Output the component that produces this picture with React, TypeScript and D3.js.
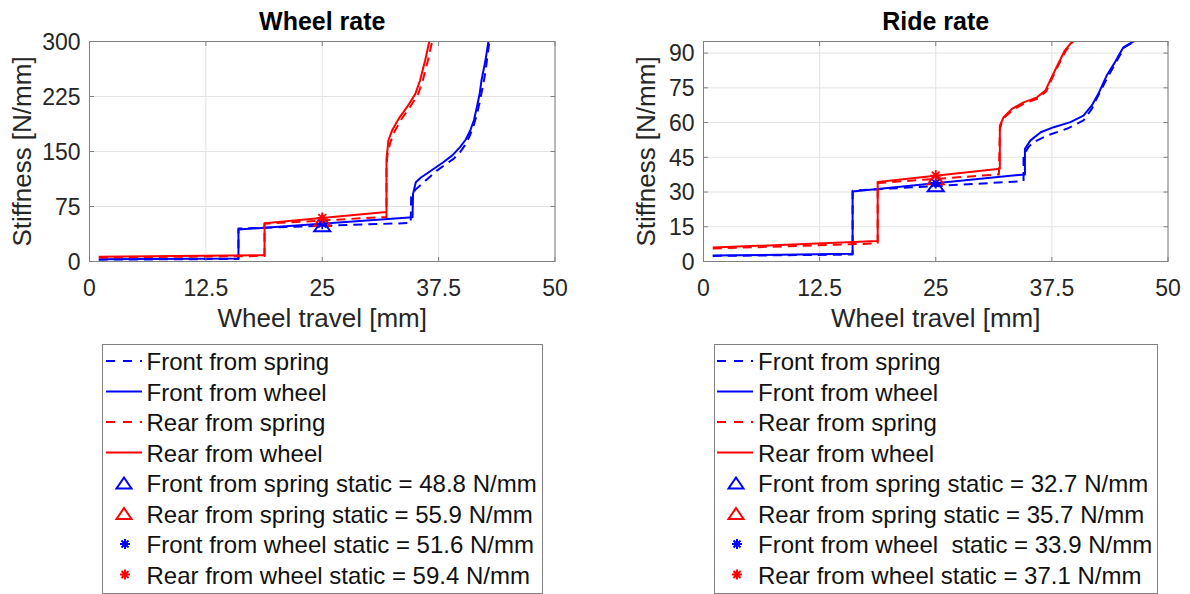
import React from 'react';
import * as d3 from 'd3';

type Pt = [number, number];

// Wheel rate curves: [wheel travel (mm), stiffness (N/mm)]
const wheelFrontSpring: Pt[] = [
  [1, 2.5], [16, 3.5], [16, 45], [34.5, 52.5], [34.55, 88], [35.0, 98], [35.9, 108],
  [36.6, 116], [37.3, 124], [38.2, 132], [39.1, 140], [39.8, 149], [40.3, 158],
  [40.8, 170], [41.2, 183], [41.6, 200], [41.95, 219.5], [42.5, 256], [42.95, 300], [43.1, 312],
];
const wheelFrontWheel: Pt[] = [
  [1, 3], [16, 4], [16, 43.5], [34.7, 60.5], [34.75, 92], [34.9, 100], [35.05, 108],
  [35.6, 114.5], [36.2, 119.6], [37.1, 127.5], [38.0, 135.4], [39.0, 145], [39.8, 155.9],
  [40.4, 166], [40.9, 178.6], [41.3, 193], [41.6, 210.4], [41.9, 228], [42.1, 246.8],
  [42.5, 272], [42.85, 300], [43.0, 312],
];
const wheelRearSpring: Pt[] = [
  [1, 5.5], [18.8, 7.5], [18.8, 51.5], [31.9, 60.8], [31.9, 130], [32.0, 145], [32.3, 162],
  [32.8, 178], [33.5, 194], [34.4, 210], [35.3, 228], [35.8, 247], [36.35, 274],
  [36.8, 300], [36.9, 312],
];
const wheelRearWheel: Pt[] = [
  [1, 6.5], [18.8, 8.5], [18.8, 52.3], [31.9, 67.6], [31.9, 140], [32.0, 152], [32.1, 165],
  [32.5, 178.6], [33.2, 194.5], [34.1, 210.4], [35.0, 228.6], [35.5, 246.8], [36.05, 274],
  [36.5, 300], [36.6, 312],
];

// Ride rate curves: [wheel travel (mm), stiffness (N/mm)]
const rideFrontSpring: Pt[] = [
  [1, 2.4], [16.05, 3.0], [16.05, 30.6], [34.45, 34.7], [34.45, 46], [35.0, 49.5],
  [35.5, 51.5], [37.0, 54.4], [39.1, 57.3], [40.9, 60.9], [41.8, 65.9], [42.3, 70.2],
  [43.5, 79.5], [44.4, 86], [45.3, 92.5], [46.5, 95.3], [47, 97],
];
const rideFrontWheel: Pt[] = [
  [1, 2.6], [16.05, 3.3], [16.05, 30.2], [34.6, 37.6], [34.6, 48.7], [35.2, 52.3],
  [36.3, 55.8], [37.7, 58.0], [39.5, 60.2], [40.9, 63.0], [41.8, 67.4], [42.5, 72.4],
  [43.4, 80.3], [44.3, 86.1], [44.8, 89.7], [45.2, 92.5], [46.4, 95.3], [47, 97],
];
const rideRearSpring: Pt[] = [
  [1, 5.6], [18.75, 7.8], [18.75, 33.9], [31.8, 37.6], [31.9, 57], [32.2, 61.5],
  [33.3, 65.4], [34.6, 68.4], [36.0, 70.4], [36.9, 73.5], [37.4, 78], [38.1, 84],
  [39.0, 91], [39.9, 95.5], [40.2, 97],
];
const rideRearWheel: Pt[] = [
  [1, 6], [18.75, 8.8], [18.75, 34.3], [31.9, 40.0], [31.9, 58.7], [32.3, 62.3],
  [33.2, 65.9], [34.45, 68.7], [35.9, 70.9], [36.8, 73.8], [37.3, 78.1], [38.0, 83.9],
  [38.9, 91.2], [39.8, 95.5], [40.1, 97],
];

// Static operating point (mm) and rates there: front spring, rear spring, front wheel, rear wheel
const staticTravel = 25;
const wheelStatic = [48.8, 55.9, 51.6, 59.4];
const rideStatic = [32.7, 35.7, 33.9, 37.1];

const xTicks = [0, 12.5, 25, 37.5, 50];
const wheelYTicks = [0, 75, 150, 225, 300];
const rideYTicks = [0, 15, 30, 45, 60, 75, 90];

const lineLabels = ['Front from spring', 'Front from wheel', 'Rear from spring', 'Rear from wheel'];

const fmt = (v: number) => v.toFixed(1);
const wheelStaticLabels = [
  `Front from spring static = ${fmt(wheelStatic[0])} N/mm`,
  `Rear from spring static = ${fmt(wheelStatic[1])} N/mm`,
  `Front from wheel static = ${fmt(wheelStatic[2])} N/mm`,
  `Rear from wheel static = ${fmt(wheelStatic[3])} N/mm`,
];
const rideStaticLabels = [
  `Front from spring static = ${fmt(rideStatic[0])} N/mm`,
  `Rear from spring static = ${fmt(rideStatic[1])} N/mm`,
  `Front from wheel  static = ${fmt(rideStatic[2])} N/mm`,
  `Rear from wheel static = ${fmt(rideStatic[3])} N/mm`,
];

const BLUE = '#0000ff';
const RED = '#ff0000';
const FONT = '"Liberation Sans", Arial, Helvetica, sans-serif';
const AXIS_GRAY = '#808080';
const TEXT_DARK = '#262626';

const triPath = (cx: number, cy: number, w: number, h: number) =>
  `M${cx},${cy - h / 2}L${cx + w / 2},${cy + h / 2}L${cx - w / 2},${cy + h / 2}Z`;

const starPath = (cx: number, cy: number, r: number) => {
  const d = r * 0.7071;
  return `M${cx - r},${cy}L${cx + r},${cy}M${cx},${cy - r}L${cx},${cy + r}` +
    `M${cx - d},${cy - d}L${cx + d},${cy + d}M${cx - d},${cy + d}L${cx + d},${cy - d}`;
};

interface Box { left: number; right: number; top: number; bottom: number }

interface PanelProps {
  id: string;
  title: string;
  box: Box;
  yMax: number;
  yTicks: number[];
  yLabelX: number;
  curves: Pt[][];
  statics: number[];
}

function Panel({ id, title, box, yMax, yTicks, yLabelX, curves, statics }: PanelProps) {
  const x = d3.scaleLinear().domain([0, 50]).range([box.left, box.right]);
  const y = d3.scaleLinear().domain([0, yMax]).range([box.bottom, box.top]);
  const line = d3.line<Pt>().x(d => x(d[0])).y(d => y(d[1]));
  const styles = [
    { color: BLUE, dash: '9,6' },
    { color: BLUE, dash: undefined },
    { color: RED, dash: '9,6' },
    { color: RED, dash: undefined },
  ];
  const sx = x(staticTravel);
  const tick = 4.5;
  const cx = (box.left + box.right) / 2;
  const cy = (box.top + box.bottom) / 2;

  return (
    <g>
      <defs>
        <clipPath id={`clip-${id}`}>
          <rect x={box.left} y={box.top} width={box.right - box.left} height={box.bottom - box.top} />
        </clipPath>
      </defs>
      <rect x={box.left} y={box.top} width={box.right - box.left} height={box.bottom - box.top} fill="#fff" />
      {/* grid */}
      {xTicks.map(t => (
        <line key={`gx${t}`} x1={x(t)} x2={x(t)} y1={box.top} y2={box.bottom} stroke="#e3e3e3" strokeWidth={1} />
      ))}
      {yTicks.map(t => (
        <line key={`gy${t}`} x1={box.left} x2={box.right} y1={y(t)} y2={y(t)} stroke="#e3e3e3" strokeWidth={1} />
      ))}
      {/* curves */}
      <g clipPath={`url(#clip-${id})`}>
        {curves.map((c, i) => (
          <path key={i} d={line(c) || ''} fill="none" stroke={styles[i].color} strokeWidth={2}
            strokeDasharray={styles[i].dash} strokeLinejoin="round" />
        ))}
      </g>
      {/* static markers */}
      <path d={triPath(sx, y(statics[1]), 16, 11)} fill="none" stroke={RED} strokeWidth={2} />
      <path d={triPath(sx, y(statics[0]), 16, 11)} fill="none" stroke={BLUE} strokeWidth={2} />
      <path d={starPath(sx, y(statics[2]), 5.5)} stroke={BLUE} strokeWidth={1.8} />
      <path d={starPath(sx, y(statics[3]), 5.5)} stroke={RED} strokeWidth={1.8} />
      {/* frame and ticks */}
      <rect x={box.left} y={box.top} width={box.right - box.left} height={box.bottom - box.top}
        fill="none" stroke={AXIS_GRAY} strokeWidth={1} />
      {xTicks.map(t => (
        <g key={`tx${t}`}>
          <line x1={x(t)} x2={x(t)} y1={box.bottom} y2={box.bottom - tick} stroke={AXIS_GRAY} />
          <line x1={x(t)} x2={x(t)} y1={box.top} y2={box.top + tick} stroke={AXIS_GRAY} />
          <text x={x(t)} y={box.bottom + 34} textAnchor="middle" fontSize={23} fill={TEXT_DARK}>{t}</text>
        </g>
      ))}
      {yTicks.map(t => (
        <g key={`ty${t}`}>
          <line x1={box.left} x2={box.left + tick} y1={y(t)} y2={y(t)} stroke={AXIS_GRAY} />
          <line x1={box.right} x2={box.right - tick} y1={y(t)} y2={y(t)} stroke={AXIS_GRAY} />
          <text x={box.left - 9} y={y(t) + 8.3} textAnchor="end" fontSize={23} fill={TEXT_DARK}>{t}</text>
        </g>
      ))}
      <text x={cx} y={30} textAnchor="middle" fontSize={25} fontWeight="bold" fill="#000">{title}</text>
      <text x={cx} y={327} textAnchor="middle" fontSize={26} fill={TEXT_DARK}>Wheel travel [mm]</text>
      <text transform={`translate(${yLabelX},${cy}) rotate(-90)`} textAnchor="middle" fontSize={26} fill={TEXT_DARK}>
        Stiffness [N/mm]
      </text>
    </g>
  );
}

interface LegendProps {
  left: number;
  right: number;
  lineX0: number;
  lineX1: number;
  markerX: number;
  textX: number;
  staticLabels: string[];
}

function Legend({ left, right, lineX0, lineX1, markerX, textX, staticLabels }: LegendProps) {
  const top = 344.5;
  const bottom = 593.5;
  const rows = d3.range(8).map(i => 370 + i * 30.5);
  const lineStyles = [
    { color: BLUE, dash: '9,8' },
    { color: BLUE, dash: undefined },
    { color: RED, dash: '9,8' },
    { color: RED, dash: undefined },
  ];
  const labels = [...lineLabels, ...staticLabels];
  return (
    <g>
      <rect x={left} y={top} width={right - left} height={bottom - top} fill="#fff" stroke={AXIS_GRAY} strokeWidth={1} />
      {lineStyles.map((s, i) => (
        <line key={`l${i}`} x1={lineX0} x2={lineX1} y1={rows[i] - 9} y2={rows[i] - 9}
          stroke={s.color} strokeWidth={2} strokeDasharray={s.dash} />
      ))}
      <path d={triPath(markerX, rows[4] - 9, 15, 11)} fill="none" stroke={BLUE} strokeWidth={2} />
      <path d={triPath(markerX, rows[5] - 9, 15, 11)} fill="none" stroke={RED} strokeWidth={2} />
      <path d={starPath(markerX + 1, rows[6] - 9, 5)} stroke={BLUE} strokeWidth={2} />
      <path d={starPath(markerX + 1, rows[7] - 9, 5)} stroke={RED} strokeWidth={2} />
      {labels.map((t, i) => (
        <text key={`t${i}`} x={textX} y={rows[i]} fontSize={24} fill="#111" style={{ whiteSpace: 'pre' }}>{t}</text>
      ))}
    </g>
  );
}

export default function App() {
  return (
    <svg width={1190} height={594} viewBox="0 0 1190 594"
      style={{ position: 'absolute', left: 0, top: 0, display: 'block', background: '#fff' }}
      fontFamily={FONT}>
      <rect x={0} y={0} width={1190} height={594} fill="#fff" />
      <Panel id="wheel" title="Wheel rate" box={{ left: 89.5, right: 555, top: 41.5, bottom: 261.5 }}
        yMax={300} yTicks={wheelYTicks} yLabelX={31}
        curves={[wheelFrontSpring, wheelFrontWheel, wheelRearSpring, wheelRearWheel]}
        statics={wheelStatic} />
      <Panel id="ride" title="Ride rate" box={{ left: 703.5, right: 1168, top: 41.5, bottom: 261.5 }}
        yMax={95} yTicks={rideYTicks} yLabelX={655}
        curves={[rideFrontSpring, rideFrontWheel, rideRearSpring, rideRearWheel]}
        statics={rideStatic} />
      <Legend left={102.5} right={542.5} lineX0={106} lineX1={142} markerX={124} textX={146.5}
        staticLabels={wheelStaticLabels} />
      <Legend left={714.5} right={1157.5} lineX0={717} lineX1={753} markerX={736} textX={758}
        staticLabels={rideStaticLabels} />
    </svg>
  );
}
